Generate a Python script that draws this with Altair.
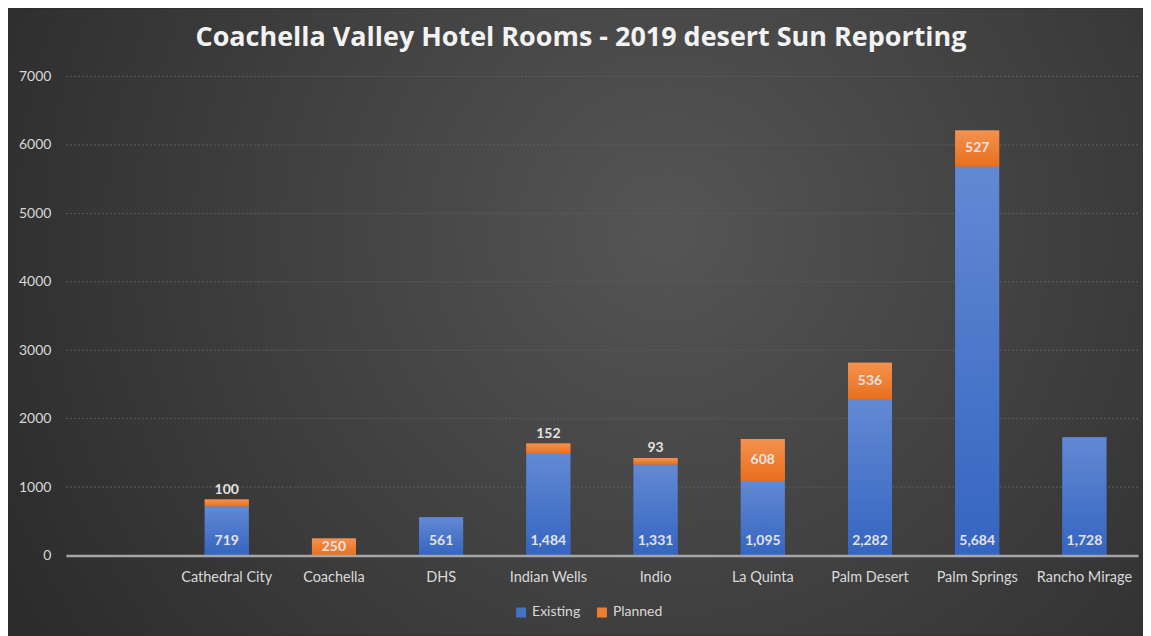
import altair as alt
import pandas as pd

# ---------------- data ----------------
categories = [" ", "Cathedral City", "Coachella", "DHS", "Indian Wells", "Indio",
              "La Quinta", "Palm Desert", "Palm Springs", "Rancho Mirage"]
cities = ["Cathedral City", "Coachella", "DHS", "Indian Wells", "Indio",
          "La Quinta", "Palm Desert", "Palm Springs", "Rancho Mirage"]
existing = [719, 0, 561, 1484, 1331, 1095, 2282, 5684, 1728]
planned = [100, 250, 0, 152, 93, 608, 536, 527, 0]
series = ["Existing", "Planned"]
series_colors = ["#4472C4", "#ED7D31"]
y_ticks = [0, 1000, 2000, 3000, 4000, 5000, 6000, 7000]
title_text = "Coachella Valley Hotel Rooms - 2019 desert Sun Reporting"

# ---------------- tables ----------------
df = pd.DataFrame({"city": cities, "existing": existing, "planned": planned})
df["total"] = df["existing"] + df["planned"]
df["mid"] = df["existing"] + df["planned"] / 2

long_rows = []
for c, e, p in zip(cities, existing, planned):
    long_rows.append({"city": c, "series": series[0], "y0": 0, "y1": e})
    long_rows.append({"city": c, "series": series[1], "y0": e, "y1": e + p})
long_df = pd.DataFrame(long_rows)

grid_df = pd.DataFrame({"v": y_ticks[1:]})

W, H = 1074, 480
PAD = {"left": 58, "top": 68, "right": 5, "bottom": 80}

xscale = alt.Scale(domain=categories, paddingInner=0.59, paddingOuter=0.295)
yscale = alt.Scale(domain=[0, 7000], nice=False)

x_axis = alt.Axis(zindex=1, labelAngle=0, ticks=False, grid=False, domainColor="#A6A6A6",
                  domainWidth=2.5, labelPadding=15, labelFont="Lato", labelFontSize=14.5,
                  labelColor="#D9D9D9", title=None)
y_axis = alt.Axis(zindex=1, values=y_ticks, format="d", ticks=False, grid=False, domain=False,
                  labelPadding=15, labelFont="Lato", labelFontSize=14,
                  labelColor="#D9D9D9", title=None)

X = alt.X("city:N", scale=xscale, sort=categories, axis=x_axis)


def Y(field):
    return alt.Y(field, scale=yscale, axis=y_axis)


bg_fill = {
    "gradient": "radial",
    "x1": 0.58, "y1": 0.42, "r1": 0.0,
    "x2": 0.58, "y2": 0.42, "r2": 0.75,
    "stops": [
        {"offset": 0.0, "color": "#555555"},
        {"offset": 1.0, "color": "#262626"},
    ],
}
blue_fill = {
    "gradient": "linear", "x1": 0, "y1": 0, "x2": 0, "y2": 1,
    "stops": [{"offset": 0, "color": "#6289D3"}, {"offset": 1, "color": "#3565C1"}],
}
orange_fill = {
    "gradient": "linear", "x1": 0, "y1": 0, "x2": 0, "y2": 1,
    "stops": [{"offset": 0, "color": "#F4924F"}, {"offset": 1, "color": "#E86F1D"}],
}

bg = alt.Chart(pd.DataFrame({"k": [0]})).mark_rect(fill=bg_fill).encode(
    x=alt.value(-PAD["left"]), x2=alt.value(W + PAD["right"]),
    y=alt.value(-PAD["top"]), y2=alt.value(H + PAD["bottom"]),
)

grid = alt.Chart(grid_df).mark_rule(color="#5E5E5E", strokeDash=[2, 2], strokeWidth=1).encode(
    y=Y("v:Q")
)

bars_legend = alt.Chart(long_df).mark_bar().encode(
    x=X,
    y=Y("y0:Q"),
    y2="y1:Q",
    color=alt.Color("series:N", scale=alt.Scale(domain=series, range=series_colors),
                    legend=alt.Legend(title=None, orient="none", direction="horizontal",
                                      legendX=449, legendY=530)),
)

bars_existing = alt.Chart(df).transform_filter("datum.existing > 0").mark_bar(fill=blue_fill).encode(
    x=X, y=Y("existing:Q"), y2=alt.datum(0)
)
bars_planned = alt.Chart(df).transform_filter("datum.planned > 0").mark_bar(fill=orange_fill).encode(
    x=X, y=Y("existing:Q"), y2="total:Q"
)

lbl = dict(font="Lato", fontSize=14, fontWeight="bold", color="#E3E3E3", baseline="middle")

lab_existing = alt.Chart(df).transform_filter("datum.existing > 0").mark_text(dy=-15, **lbl).encode(
    x=X, y=alt.datum(0), text=alt.Text("existing:Q", format=",")
)
lab_planned_mid = alt.Chart(df).transform_filter("datum.planned >= 200").mark_text(**lbl).encode(
    x=X, y=Y("mid:Q"), text=alt.Text("planned:Q", format=",")
)
lab_planned_top = alt.Chart(df).transform_filter("datum.planned > 0 && datum.planned < 200").mark_text(dy=-10, **lbl).encode(
    x=X, y=Y("total:Q"), text=alt.Text("planned:Q", format=",")
)

chart = alt.layer(
    bg, grid, bars_legend, bars_existing, bars_planned,
    lab_existing, lab_planned_mid, lab_planned_top,
).properties(
    width=W, height=H,
    padding=PAD,
    autosize=alt.AutoSizeParams(type="none"),
    title=alt.TitleParams(title_text, font="Open Sans", fontSize=27, fontWeight="bold",
                          color="#F2F2F2", anchor="middle", frame="group", dx=-21,
                          offset=0, dy=71, baseline="bottom"),
).configure(
    background="#2B2B2B",
).configure_view(
    stroke=None,
).configure_legend(
    labelFont="Lato", labelFontSize=14, labelColor="#D9D9D9", symbolType="square",
    symbolSize=100, symbolStrokeWidth=0, labelOffset=4, columnPadding=14, padding=0,
)

chart.save("out.html", embed_options={"renderer": "svg", "actions": False})
